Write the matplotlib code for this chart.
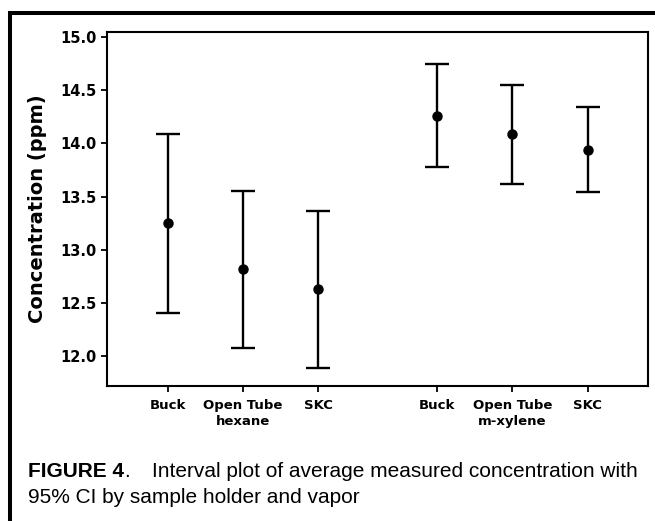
import numpy as np
import matplotlib.pyplot as plt
from matplotlib.lines import Line2D

holders = ["Buck", "Open Tube", "SKC", "Buck", "Open Tube", "SKC"]
vapors = ["hexane", "m-xylene"]
means = [13.25, 12.82, 12.63, 14.26, 14.09, 13.94]
upper = [14.09, 13.55, 13.36, 14.74, 14.55, 14.34]
lower = [12.41, 12.08, 11.89, 13.78, 13.62, 13.54]

x = np.array([0, 1, 2, 3.58, 4.58, 5.58])
means = np.array(means)
yerr = [means - np.array(lower), np.array(upper) - means]

fig = plt.figure(figsize=(6.55, 5.21), dpi=100)
ax = fig.add_axes([0.163, 0.259, 0.826, 0.68])

ax.errorbar(x, means, yerr=yerr, fmt='o', color='black', ms=6.5,
            elinewidth=1.7, capsize=8.6, capthick=1.7)

ax.set_xlim(-0.81, 6.38)
ax.set_ylim(11.72, 15.047)
ax.set_yticks([12.0, 12.5, 13.0, 13.5, 14.0, 14.5, 15.0])
ax.set_yticklabels([f"{v:.1f}" for v in ax.get_yticks()],
                   fontsize=10.5, fontweight='bold')
ax.set_xticks(x)
ax.set_xticklabels(holders, fontsize=9.5, fontweight='bold')
ax.tick_params(axis='both', direction='out', length=4, width=1.3, colors='black')
ax.tick_params(axis='x', pad=5)
for s in ax.spines.values():
    s.set_linewidth(1.5)

for i, v in enumerate(vapors):
    ax.text(x[3 * i + 1], -0.082, v, transform=ax.get_xaxis_transform(),
            ha='center', va='top', fontsize=9.5, fontweight='bold')

ax.set_ylabel("Concentration (ppm)", fontsize=14, fontweight='bold', labelpad=9)

# frame lines of the figure page
fig.add_artist(Line2D([8 / 655, 1], [1 - 12.5 / 521] * 2, transform=fig.transFigure,
                      color='black', lw=2.9, solid_capstyle='butt'))
fig.add_artist(Line2D([9.5 / 655] * 2, [0, 1 - 11 / 521], transform=fig.transFigure,
                      color='black', lw=2.9, solid_capstyle='butt'))

# caption
cap_font = 'Liberation Sans'
fig.canvas.draw()
r = fig.canvas.get_renderer()
t1 = fig.text(28 / 655, 1 - 477 / 521, "FIGURE 4", fontsize=15, fontweight='bold',
              family=cap_font, va='baseline')
bb = t1.get_window_extent(r)
fig.text(bb.x1 / 655, 1 - 477 / 521, ".", fontsize=15, family=cap_font, va='baseline')
fig.text(152 / 655, 1 - 477 / 521, "Interval plot of average measured concentration with",
         fontsize=15, family=cap_font, va='baseline')
fig.text(28 / 655, 1 - 503 / 521, "95% CI by sample holder and vapor",
         fontsize=15, family=cap_font, va='baseline')

fig.savefig("out.png", dpi=100)
